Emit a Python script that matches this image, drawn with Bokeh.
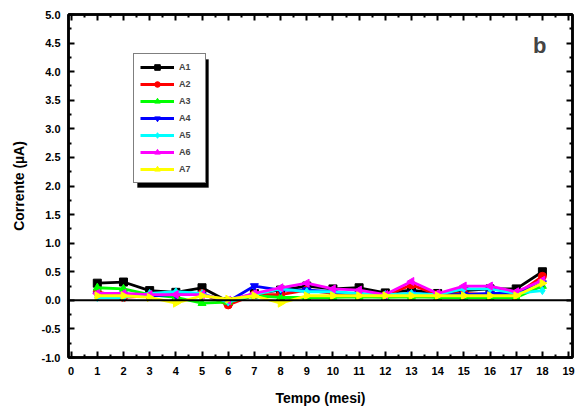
from bokeh.plotting import figure
from bokeh.models import (LinearAxis, Range1d, Legend, LegendItem, BoxAnnotation,
                          Label, Span, FixedTicker, PrintfTickFormatter)
from bokeh.embed import file_html
from bokeh.resources import INLINE
import math

months = list(range(1, 19))
series_names = ["A1", "A2", "A3", "A4", "A5", "A6", "A7"]
a1 = [0.30, 0.32, 0.17, 0.14, 0.22, -0.02, 0.12, 0.18, 0.25, 0.20, 0.22, 0.13, 0.18, 0.12, 0.17, 0.20, 0.20, 0.50]
a2 = [0.15, 0.05, 0.08, 0.10, 0.12, -0.08, 0.10, 0.10, 0.18, 0.12, 0.10, 0.08, 0.27, 0.10, 0.12, 0.10, 0.10, 0.42]
a3 = [0.22, 0.20, 0.10, 0.05, -0.05, -0.03, 0.08, 0.05, 0.05, 0.05, 0.06, 0.05, 0.06, 0.05, 0.05, 0.05, 0.05, 0.25]
a4 = [0.10, 0.10, 0.08, 0.10, 0.10, -0.02, 0.25, 0.18, 0.18, 0.15, 0.10, 0.08, 0.12, 0.10, 0.10, 0.12, 0.12, 0.30]
a5 = [0.05, 0.05, 0.12, 0.15, 0.12, -0.03, 0.10, 0.20, 0.15, 0.15, 0.12, 0.10, 0.12, 0.10, 0.20, 0.20, 0.12, 0.17]
a6 = [0.12, 0.12, 0.10, 0.10, 0.10, 0.00, 0.12, 0.22, 0.30, 0.20, 0.18, 0.10, 0.33, 0.12, 0.25, 0.25, 0.15, 0.35]
a7 = [0.08, 0.08, 0.05, -0.05, 0.08, 0.02, 0.08, -0.05, 0.08, 0.08, 0.08, 0.08, 0.08, 0.08, 0.08, 0.08, 0.08, 0.30]
series_values = [a1, a2, a3, a4, a5, a6, a7]
colors = ["#000000", "#ff0000", "#00ff00", "#0000ff", "#00ffff", "#ff00ff", "#ffff00"]
markers = ["square", "circle", "triangle", "inverted_triangle", "diamond", "triangle", "triangle"]
angles = [0, 0, 0, 0, 0, math.pi / 2, -math.pi / 2]
x_ticks = list(range(0, 20))
y_ticks = [-1.0, -0.5, 0.0, 0.5, 1.0, 1.5, 2.0, 2.5, 3.0, 3.5, 4.0, 4.5, 5.0]
x_title = "Tempo (mesi)"
y_title = "Corrente (µA)"

FONT = "Liberation Sans"
x0, x1 = -0.1, 19.15
y0, y1 = -1.0, 5.0
FW, FH = 504, 343

p = figure(frame_width=FW, frame_height=FH, output_backend="svg", toolbar_location=None,
           x_range=Range1d(x0, x1), y_range=Range1d(y0, y1),
           min_border_left=68, min_border_right=4, min_border_top=14, min_border_bottom=54,
           x_axis_label=x_title, y_axis_label=y_title)
p.grid.visible = False
p.outline_line_color = "black"
p.outline_line_width = 2.5

p.xaxis.ticker = FixedTicker(ticks=x_ticks, minor_ticks=[t + 0.5 for t in x_ticks])
p.yaxis.ticker = FixedTicker(ticks=y_ticks, minor_ticks=[t + 0.25 for t in y_ticks])
p.yaxis.formatter = PrintfTickFormatter(format="%.1f")

for ax in [p.xaxis[0], p.yaxis[0]]:
    ax.axis_line_width = 2.5
    ax.major_tick_in = 6
    ax.major_tick_out = 0
    ax.minor_tick_in = 3
    ax.minor_tick_out = 0
    ax.major_tick_line_width = 2
    ax.minor_tick_line_width = 2
    ax.major_label_text_font = FONT
    ax.major_label_text_font_style = "bold"
    ax.major_label_text_font_size = "11px"
    ax.major_label_text_color = "black"
    ax.axis_label_text_font = FONT
    ax.axis_label_text_font_style = "bold"
    ax.axis_label_text_font_size = "14px"
    ax.axis_label_text_color = "black"
p.xaxis.major_label_standoff = 9
p.yaxis.major_label_standoff = 8
p.xaxis.axis_label_standoff = 12
p.yaxis.axis_label_standoff = 12

top = LinearAxis(ticker=FixedTicker(ticks=x_ticks, minor_ticks=[t + 0.5 for t in x_ticks]),
                 major_label_overrides={t: "" for t in x_ticks}, major_label_standoff=0)
right = LinearAxis(ticker=FixedTicker(ticks=y_ticks, minor_ticks=[t + 0.25 for t in y_ticks]),
                   major_label_overrides={t: "" for t in y_ticks}, major_label_standoff=0)
for ax in [top, right]:
    ax.axis_line_width = 2.5
    ax.major_tick_in = 6
    ax.major_tick_out = 0
    ax.minor_tick_in = 3
    ax.minor_tick_out = 0
    ax.major_tick_line_width = 2
    ax.minor_tick_line_width = 2
p.add_layout(top, "above")
p.add_layout(right, "right")

p.add_layout(Span(location=0, dimension="width", line_color="black", line_width=2))

items = []
for name, vals, c, m, a in zip(series_names, series_values, colors, markers, angles):
    r1 = p.line(months, vals, line_color=c, line_width=2.8)
    r2 = p.scatter(months, vals, marker=m, angle=a, size=8, fill_color=c, line_color=c)
    items.append(LegendItem(label=name, renderers=[r1, r2]))

# legend shadow
pxx = FW / (x1 - x0)
pxy = FH / (y1 - y0)
lg_left, lg_bottom, lg_w, lg_h = 65, 174, 71, 128
sh = 4
p.add_layout(BoxAnnotation(left=x0 + (lg_left + sh) / pxx, right=x0 + (lg_left + lg_w + sh) / pxx,
                           bottom=y0 + (lg_bottom - sh) / pxy, top=y0 + (lg_bottom + lg_h - sh) / pxy,
                           fill_color="black", fill_alpha=1, line_color="black"))

legend = Legend(items=items, location=(lg_left, lg_bottom), padding=6, spacing=3,
                glyph_height=14, glyph_width=34, label_height=14, label_width=20,
                label_standoff=5, margin=0,
                label_text_font=FONT, label_text_font_style="bold", label_text_font_size="9px",
                border_line_color="black", border_line_width=1.5,
                background_fill_color="white", background_fill_alpha=1)
p.add_layout(legend)

p.add_layout(Label(x=17.9, y=4.46, text="b", text_font=FONT, text_font_style="bold",
                   text_font_size="22px", text_align="center", text_baseline="middle"))

open("out.html", "w").write(file_html(p, INLINE))
